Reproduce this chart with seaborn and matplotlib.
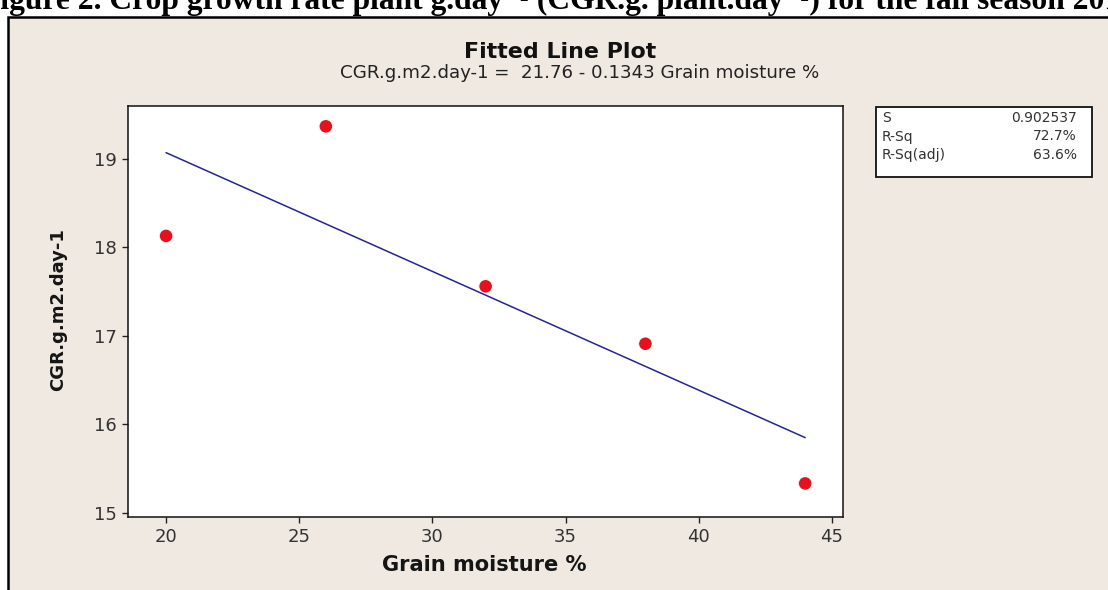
import numpy as np
import matplotlib
matplotlib.use("Agg")
import matplotlib.pyplot as plt
from matplotlib.patches import Rectangle
import seaborn as sns
import pandas as pd

# ---- data ----
grain_moisture = [20, 26, 32, 38, 44]
cgr = [18.13, 19.37, 17.56, 16.91, 15.33]
x_ticks = [20, 25, 30, 35, 40, 45]
y_ticks = [15, 16, 17, 18, 19]
stats_labels = ["S", "R-Sq", "R-Sq(adj)"]
stats_values = ["0.902537", "72.7%", "63.6%"]
title = "Fitted Line Plot"
subtitle = "CGR.g.m2.day-1 =  21.76 - 0.1343 Grain moisture %"
x_label = "Grain moisture %"
y_label = "CGR.g.m2.day-1"
caption_first = "F"
caption_rest = "igure 2. Crop growth rate plant g.day\u207b\u00b9 (CGR.g. plant.day\u207b\u00b9) for the fall season "
caption_end = "2019"

sns.set_theme(style="white")
plt.rcParams['font.family'] = ['DejaVu Sans']

W, H = 1108, 590
fig = plt.figure(figsize=(W / 100, H / 100), dpi=100)
fig.patch.set_facecolor("white")
renderer = fig.canvas.get_renderer()

def fx(px):
    return px / W

def fy(py):
    return 1 - py / H

def text_width(s, size, **kw):
    t = fig.text(0, 0, s, fontsize=size, **kw)
    w = t.get_window_extent(renderer).width
    t.remove()
    return w

def fit_size(s, target_px, **kw):
    return 10 * target_px / text_width(s, 10, **kw)

# beige frame
frame = Rectangle((fx(8), -0.1), 1.2, fy(17) + 0.1, transform=fig.transFigure,
                  facecolor="#F0E9E2", edgecolor="black", linewidth=1.8, zorder=-5)
fig.patches.append(frame)

# caption (cut at top and at the edges)
cap_kw = dict(fontweight="bold", family=["Liberation Serif", "DejaVu Serif"])
cap_size = fit_size(caption_rest, 1076, **cap_kw)
f_w = text_width(caption_first, cap_size, **cap_kw)
fig.text(fx(-f_w), fy(9.5), caption_first + caption_rest + caption_end,
         fontsize=cap_size, ha="left", va="baseline", color="black", zorder=1, **cap_kw)

ax = fig.add_axes([fx(128), fy(517), fx(843) - fx(128), fy(106) - fy(517)])
ax.set_zorder(3)
ax.set_facecolor("white")

df = pd.DataFrame({x_label: grain_moisture, y_label: cgr})
slope, intercept = np.polyfit(grain_moisture, cgr, 1)
df["fit"] = intercept + slope * df[x_label]

sns.lineplot(data=df, x=x_label, y="fit", ax=ax, color="#24249C",
             linewidth=1.1, zorder=2)
sns.scatterplot(data=df, x=x_label, y=y_label, ax=ax,
                color="#E8101A", s=82, edgecolor="none", zorder=3)

ax.set_xlim(18.57, 45.42)
ax.set_ylim(14.95, 19.6)
ax.set_xticks(x_ticks)
ax.set_yticks(y_ticks)
ax.tick_params(axis="both", direction="out", length=4.5, width=1, color="#222222",
               labelsize=13, labelcolor="#333333", pad=3.5, bottom=True, left=True)
for sp in ax.spines.values():
    sp.set_color("#111111")
    sp.set_linewidth(1.1)

xl_size = fit_size(x_label, 205, fontweight="bold")
yl_size = fit_size(y_label, 163, fontweight="bold")
ax.set_xlabel(x_label, fontsize=xl_size, fontweight="bold", color="#151515")
ax.set_ylabel(y_label, fontsize=yl_size, fontweight="bold", color="#151515")
ax.xaxis.label.set_va("center")
ax.yaxis.label.set_va("center")
ax.xaxis.set_label_coords((484 - 128) / 715, (517 - 565) / 411)
ax.yaxis.set_label_coords((58 - 128) / 715, (517 - 310) / 411)

t_size = fit_size(title, 192, fontweight="bold")
s_size = fit_size(subtitle, 480)
fig.text(fx(560), fy(52), title, fontsize=t_size, fontweight="bold", ha="center",
         va="center", color="#111111", zorder=2)
fig.text(fx(580), fy(73), subtitle, fontsize=s_size, ha="center", va="center",
         color="#222222", zorder=2)

# stats box
box = Rectangle((fx(876), fy(177)), fx(1092) - fx(876), fy(107) - fy(177),
                transform=fig.transFigure, facecolor="white", edgecolor="#111111",
                linewidth=1.3, zorder=1)
fig.patches.append(box)
rows_y = [118, 136.5, 155]
for lab, val, yy in zip(stats_labels, stats_values, rows_y):
    fig.text(fx(882), fy(yy), lab, fontsize=10, ha="left", va="center",
             color="#333333", zorder=2)
    fig.text(fx(1077), fy(yy), val, fontsize=10, ha="right", va="center",
             color="#333333", zorder=2)

fig.savefig("out.png", dpi=100, facecolor=fig.get_facecolor())
